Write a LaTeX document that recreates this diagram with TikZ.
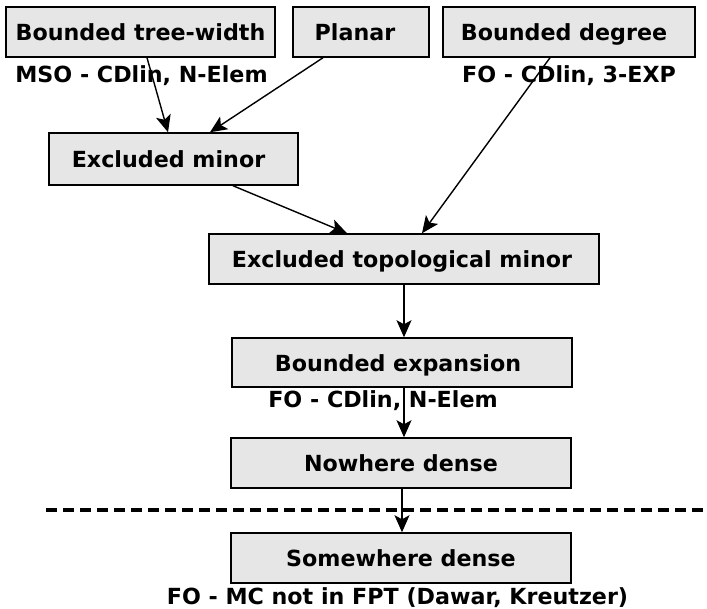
\documentclass[tikz,border=0pt]{standalone}
\usepackage{fontspec}
\setmainfont{DejaVu Sans}
\usetikzlibrary{arrows.meta}
\definecolor{boxfill}{RGB}{230,230,230}
\newcommand{\tsh}[1]{\hspace*{#1}}
\begin{document}
\begin{tikzpicture}[x=1pt,y=-1pt,
  txt/.style={font=\fontsize{22.2}{26}\selectfont\bfseries},
  box/.style={txt, draw=black, line width=1.5pt, fill=boxfill, inner sep=0pt,
    text height=17pt, text depth=0pt},
  lbl/.style={txt, anchor=base, inner sep=0pt},
  conn/.style={line width=1.4pt, -{Stealth[length=17pt,width=15pt,inset=4pt]}}]
\useasboundingbox (0,0) rectangle (707,608);
% boxes
\node[box, minimum width=269pt, minimum height=50pt] (tw) at (140.5,32) {Bounded tree-width};
\node[box, minimum width=136pt, minimum height=50pt] (pl) at (361,32) {\tsh{-12pt}Planar};
\node[box, minimum width=252pt, minimum height=50pt] (bd) at (569,32) {\tsh{-10pt}Bounded degree};
\node[box, minimum width=249pt, minimum height=52pt] (em) at (173.5,159) {\tsh{-10pt}Excluded minor};
\node[box, minimum width=390pt, minimum height=50pt] (etm) at (404,259) {\tsh{-4pt}Excluded topological minor};
\node[box, minimum width=340pt, minimum height=49pt] (be) at (402,362.5) {\tsh{-8pt}Bounded expansion};
\node[box, minimum width=340pt, minimum height=50pt] (nd) at (401,463) {Nowhere dense};
\node[box, minimum width=340pt, minimum height=50pt] (sd) at (401,558) {Somewhere dense};
% labels
\node[lbl] (ltw) at (141.5,82) {MSO - CDlin, N-Elem};
\node[lbl] (lbd) at (569,82) {FO - CDlin, 3-EXP};
\node[lbl] (lbe) at (383,407) {FO - CDlin, N-Elem};
\node[lbl] (lsd) at (397.5,604) {FO - MC not in FPT (Dawar, Kreutzer)};
% connectors
\draw[conn] ([xshift=6.5pt]tw.south) -- ([xshift=-5.5pt]em.north);
\draw[conn] ([xshift=-38pt]pl.south) -- ([xshift=36.5pt]em.north);
\draw[conn] ([xshift=59.5pt]em.south) -- ([xshift=-57pt]etm.north);
\draw[conn] ([xshift=-19pt]bd.south) -- ([xshift=18pt]etm.north);
\draw[conn] (etm.south) -- (etm.south |- be.north);
\draw[conn] ([xshift=2pt]be.south) -- ([xshift=2pt]be.south |- nd.north);
\draw[conn] ([xshift=1pt]nd.south) -- ([xshift=1pt]nd.south |- sd.north);
% separator
\coordinate (dl) at (46,510);
\coordinate (dr) at (705,510);
\draw[line width=3.5pt, dash pattern=on 11pt off 6pt] (dl) -- (dr);
\end{tikzpicture}
\end{document}
